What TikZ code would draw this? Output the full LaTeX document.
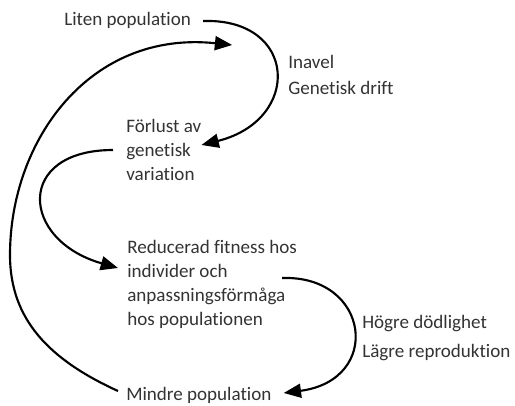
\documentclass[tikz,border=0pt]{standalone}
\usepackage{fontspec}
\setmainfont[Ligatures=NoCommon]{Carlito}
\usepackage{xcolor}
\usetikzlibrary{calc,arrows.meta}
\definecolor{ink}{HTML}{000000}
\definecolor{txt}{HTML}{333333}
\tikzset{
  lab/.style={text=txt, font=\fontsize{14.3}{18}\selectfont, inner sep=0pt, anchor=west, align=left},
  flow/.style={draw=ink, line width=1.6pt, -{Triangle[length=13pt,width=10.5pt]}},
}

\begin{document}
\begin{tikzpicture}[x=0.75pt,y=-0.75pt]
  \useasboundingbox (0,0) rectangle (515,405);

  \node[lab] (liten) at (64,20) {Liten population};
  \node[lab] (forlust) at (126,150) {Förlust av\\genetisk\\variation};
  \node[lab] (inavel) at (288,75) {Inavel\\[1pt]Genetisk drift};
  \node[lab] (reducerad) at (127,284) {Reducerad fitness hos\\individer och\\anpassningsförmåga\\hos populationen};
  \node[lab] (hogre) at (362,338) {Högre dödlighet\\[4pt]Lägre reproduktion};
  \node[lab] (mindre) at (126,395) {Mindre population};

  \draw[flow] ($(liten.east)+(12,1)$) .. controls (298,18) and (302,120) .. ($(forlust.east)+(0,-5)$);
  \draw[flow] ($(forlust.west)+(-13,0)$) .. controls (15,150) and (20,240) .. ($(reducerad.west)+(-9,-16)$);
  \draw[flow] ($(reducerad.east)+(-15,-6)$) .. controls (370,275) and (383,380) .. ($(mindre.east)+(12,-2)$);
  \draw[flow] ($(mindre.west)+(-8,-4)$) .. controls (50,360) and (10,320) .. (10,255)
    .. controls (10,140) and (90,30) .. ($(liten.east)+(41,25)$);
\end{tikzpicture}
\end{document}
